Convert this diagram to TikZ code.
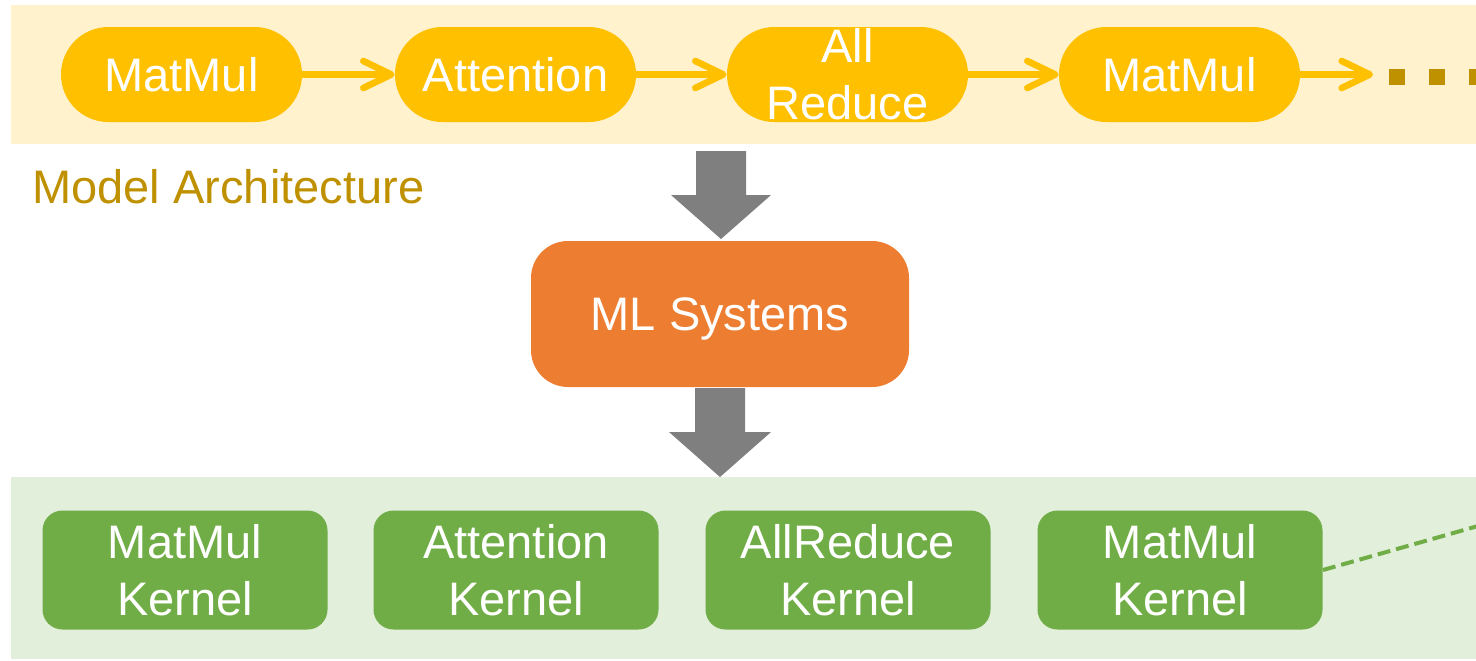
\documentclass[tikz,border=0pt]{standalone}
\usepackage{fontspec}
\setmainfont{Liberation Sans}
\usetikzlibrary{arrows.meta}
\definecolor{bandY}{HTML}{FFF2CC}
\definecolor{pillY}{HTML}{FFC000}
\definecolor{darkY}{HTML}{BF9000}
\definecolor{orangeB}{HTML}{ED7D31}
\definecolor{arrowG}{HTML}{7F7F7F}
\definecolor{bandG}{HTML}{E2EFDA}
\definecolor{boxG}{HTML}{70AD47}
\begin{document}
\begin{tikzpicture}[x=0.5pt,y=-0.5pt,
  txt/.style={font=\fontsize{23.5}{28.5}\selectfont},
  pill/.style={txt, fill=pillY, text=white, minimum width=120.5pt, minimum height=47.5pt,
    rounded corners=23.7pt, inner sep=0pt, align=center},
  kern/.style={txt, fill=boxG, text=white, minimum width=142.5pt, minimum height=59.5pt,
    rounded corners=10pt, inner sep=0pt, align=center},
  flow/.style={draw=pillY, line width=3.3pt,
    -{Straight Barb[length=14pt, width=13.5pt, line cap=round, line join=round]}},
  blockarrow/.style={fill=arrowG}
]
\useasboundingbox (0,0) rectangle (1476,660);
\clip (0,0) rectangle (1476,660);
% bands
\fill[bandY] (11,5) rectangle (1476,144);
\fill[bandG] (11,477) rectangle (1476,659);
% top pills
\node[pill] (m1) at (181.5,74.5) {MatMul};
\node[pill] (att) at (515.5,74.5) {Attention};
\node[pill] (ar) at (847.5,74.5) {All\\Reduce};
\node[pill] (m2) at (1179.5,74.5) {MatMul};
\coordinate (cont) at (1373,74.5);
\draw[flow] (m1) -- (att);
\draw[flow] (att) -- (ar);
\draw[flow] (ar) -- (m2);
\draw[flow] (m2) -- (cont);
\draw[darkY, line width=8pt, dash pattern=on 8pt off 12pt] (1389,77) -- (1500,77);
% label
\node[txt, text=darkY, anchor=base west, inner sep=0pt] (lbl) at (32,203) {Model Architecture};
% ML systems
\node[txt, fill=orangeB, text=white, minimum width=189pt, minimum height=73pt,
  rounded corners=18.5pt, inner sep=0pt, text depth=0pt] (ml) at (720,314) {ML Systems};
% block arrows
\fill[blockarrow] (696,151) -- (746,151) -- (746,195) -- (771,195) -- (721,239)
  -- (671,195) -- (696,195) -- cycle;
\fill[blockarrow] (695,388) -- (745,388) -- (745,432) -- (771,432) -- (720,477)
  -- (669,432) -- (695,432) -- cycle;
% kernels
\node[kern] (k1) at (185,570) {MatMul\\Kernel};
\node[kern] (k2) at (516,570) {Attention\\Kernel};
\node[kern] (k3) at (848,570) {AllReduce\\Kernel};
\node[kern] (k4) at (1180,570) {MatMul\\Kernel};
\coordinate (dend) at (1478,526);
\draw[boxG, line width=2pt, dash pattern=on 6.5pt off 3pt] (k4.east) -- (dend);
\end{tikzpicture}
\end{document}
